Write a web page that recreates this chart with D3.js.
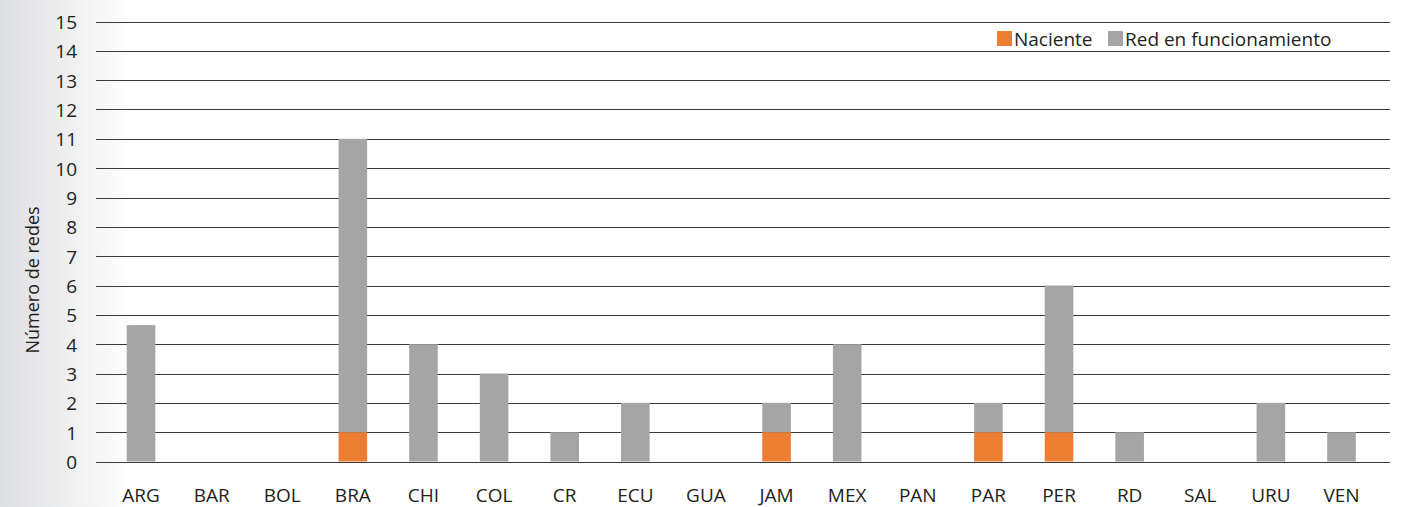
<!DOCTYPE html>
<html>
<head>
<meta charset="utf-8">
<script src="https://cdn.jsdelivr.net/npm/d3@7"></script>
<style>
  html, body { margin: 0; padding: 0; background: #fff; }
  svg { display: block; }
  text { font-family: "Open Sans", "Noto Sans", sans-serif; fill: #231f20; }
</style>
</head>
<body>
<svg id="chart" width="1401" height="507"></svg>
<script>
// Networks per country, split by stage
const countries = ["ARG","BAR","BOL","BRA","CHI","COL","CR","ECU","GUA","JAM","MEX","PAN","PAR","PER","RD","SAL","URU","VEN"];
const naciente = [0,0,0,1,0,0,0,0,0,1,0,0,1,1,0,0,0,0];
const enFuncionamiento = [4.65,0,0,10,4,3,1,2,0,1,4,0,1,5,1,0,2,1];
const yTicks = d3.range(0, 16);
const seriesNames = ["Naciente", "Red en funcionamiento"];
const seriesColors = ["#ed7d31", "#a5a5a5"];

const svg = d3.select("#chart");
const W = 1401, H = 507;

// soft grey fade on the left edge
const defs = svg.append("defs");
const grad = defs.append("linearGradient").attr("id", "edgeFade").attr("x1", 0).attr("x2", 1).attr("y1", 0).attr("y2", 0);
grad.append("stop").attr("offset", 0).attr("stop-color", "#dedfe1");
grad.append("stop").attr("offset", 1).attr("stop-color", "#ffffff");
svg.append("rect").attr("x", 0).attr("y", 0).attr("width", 135).attr("height", H).attr("fill", "url(#edgeFade)");

const gridLeft = 96, gridRight = 1390;
const y = d3.scaleLinear().domain([0, 15]).range([461.5, 21.5]);
const x = d3.scaleBand().domain(countries).range([104.7, 1375.8]).paddingInner(0.6).paddingOuter(0.3);

// gridlines
svg.append("g").selectAll("line").data(yTicks).join("line")
  .attr("x1", gridLeft).attr("x2", gridRight)
  .attr("y1", d => Math.round(y(d)) + 0.5).attr("y2", d => Math.round(y(d)) + 0.5)
  .attr("stroke", "#3a3a3a").attr("stroke-width", 1);

// y axis labels
const yAxis = d3.axisLeft(y).tickValues(yTicks).tickSize(0).tickPadding(0).tickFormat(d3.format("d"));
const gy = svg.append("g").attr("transform", "translate(77,1)").call(yAxis);
gy.select(".domain").remove();
gy.selectAll("text").attr("font-size", 19).attr("font-family", null).attr("fill", "#231f20");

// x axis labels
const xAxis = d3.axisBottom(x).tickSize(0).tickPadding(0);
const gx = svg.append("g").attr("transform", "translate(1,488)").call(xAxis);
gx.select(".domain").remove();
gx.selectAll("text").attr("font-size", 19).attr("font-family", null).attr("fill", "#231f20");

// stacked bars
const rows = countries.map((c, i) => ({ country: c, Naciente: naciente[i], "Red en funcionamiento": enFuncionamiento[i] }));
const stack = d3.stack().keys(seriesNames)(rows);
const bw = 28.6;
svg.append("g").selectAll("g").data(stack).join("g")
  .attr("fill", (d, i) => seriesColors[i])
  .selectAll("rect").data(d => d.filter(s => s[1] > s[0])).join("rect")
  .attr("x", d => x(d.data.country) + x.bandwidth() / 2 - bw / 2 + 1)
  .attr("width", bw)
  .attr("y", d => y(d[1]))
  .attr("height", d => y(d[0]) - y(d[1]));

// y axis title
svg.append("text")
  .attr("transform", "translate(39,280) rotate(-90)")
  .attr("text-anchor", "middle")
  .attr("font-size", 18)
  .text("Número de redes");

// legend
const legend = svg.append("g").attr("transform", "translate(997,31)");
const lx = [0, 111];
seriesNames.forEach((n, i) => {
  const g = legend.append("g").attr("transform", `translate(${lx[i]},0)`);
  g.append("rect").attr("width", 15).attr("height", 15).attr("fill", seriesColors[i]);
  g.append("text").attr("x", 17).attr("y", 14.5).attr("font-size", 19).text(n);
});
</script>
</body>
</html>
